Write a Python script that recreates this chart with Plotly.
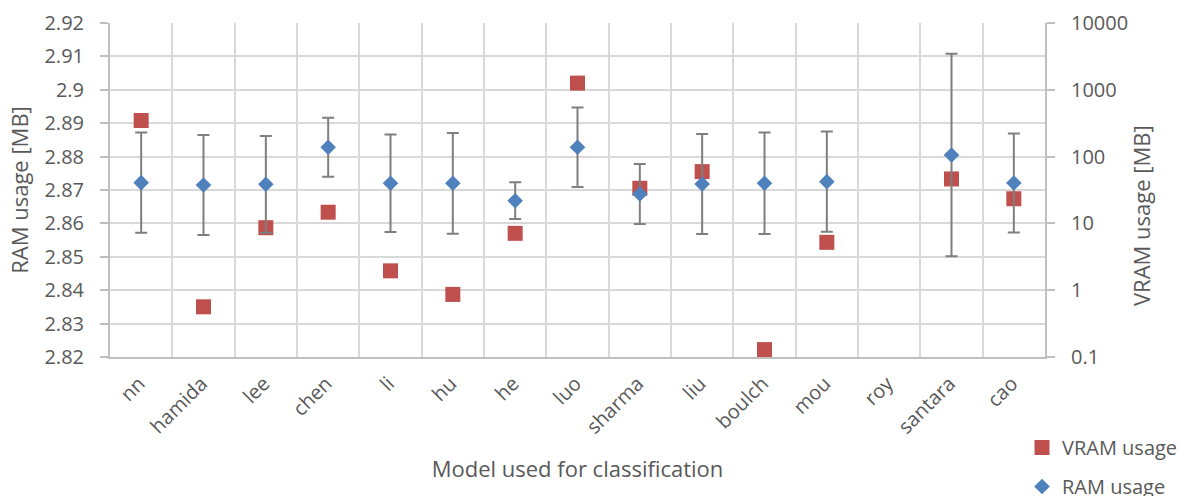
import plotly.graph_objects as go

categories = ["nn", "hamida", "lee", "chen", "li", "hu", "he", "luo",
              "sharma", "liu", "boulch", "mou", "roy", "santara", "cao"]
ram_usage = [2.8722, 2.8715, 2.8717, 2.8828, 2.8720, 2.8720, 2.8668, 2.8828,
             2.8688, 2.8718, 2.8720, 2.8725, None, 2.8805, 2.8721]
ram_error = [0.0150, 0.0150, 0.0145, 0.0088, 0.0146, 0.0151, 0.0055, 0.0119,
             0.0090, 0.0150, 0.0152, 0.0150, None, 0.0303, 0.0148]
vram_usage = [347, 0.564, 8.62, 14.7, 1.95, 0.865, 7.1, 1259,
              33.6, 59.6, 0.129, 5.21, None, 46.3, 23.4]

ram_ticks = [2.82, 2.83, 2.84, 2.85, 2.86, 2.87, 2.88, 2.89, 2.90, 2.91, 2.92]
ram_ticktext = ["2.82", "2.83", "2.84", "2.85", "2.86", "2.87", "2.88",
                "2.89", "2.9", "2.91", "2.92"]
vram_ticks = [0.1, 1, 10, 100, 1000, 10000]
vram_ticktext = ["0.1", "1", "10", "100", "1000", "10000"]

FONT = "Open Sans"
TXT = "#595959"
GRID = "#d9d9d9"
AXIS = "#bfbfbf"

x_pos = list(range(len(categories)))
boundaries = [i - 0.5 for i in range(len(categories) + 1)]

fig = go.Figure()

fig.add_trace(go.Scatter(
    x=x_pos, y=vram_usage, mode="markers", name="VRAM usage",
    yaxis="y", legendgroup="vram",
    marker=dict(symbol="square", size=15, color="#C0504D"),
))

fig.add_trace(go.Scatter(
    x=x_pos, y=ram_usage, mode="markers", name="RAM usage",
    yaxis="y2", legendgroup="ram",
    marker=dict(symbol="diamond", size=12, color="#4F81BD"),
    error_y=dict(type="data", array=ram_error, visible=True,
                 color="#7f7f7f", thickness=2, width=6),
))

fig.update_layout(
    width=1193, height=496,
    margin=dict(l=110, r=148, t=23, b=139, pad=0, autoexpand=False),
    paper_bgcolor="white", plot_bgcolor="white",
    font=dict(family=FONT, size=20, color=TXT),
    showlegend=True,
    legend=dict(
        xref="container", yref="container",
        x=1022 / 1193, y=1 - 428 / 496, xanchor="left", yanchor="top",
        font=dict(family=FONT, size=20, color=TXT),
        tracegroupgap=10, bgcolor="rgba(0,0,0,0)",
        itemwidth=30,
    ),
    xaxis=dict(
        range=[-0.5, len(categories) - 0.5],
        tickmode="array", tickvals=x_pos, ticktext=categories,
        tickangle=-45, ticks="", showgrid=False,
        showline=True, linecolor=AXIS, linewidth=2,
        zeroline=False, automargin=False,
        ticklabelstandoff=5, ticklabelshift=-2,
        tickfont=dict(family=FONT, size=20, color=TXT),
        minor=dict(tickmode="array", tickvals=boundaries, showgrid=True,
                   gridcolor=GRID, gridwidth=2, ticks=""),
        title=dict(text="Model used for classification",
                   font=dict(family=FONT, size=22, color=TXT), standoff=23),
    ),
    yaxis=dict(
        type="log", range=[-1, 4], side="right",
        tickmode="array", tickvals=vram_ticks, ticktext=vram_ticktext,
        showgrid=False, zeroline=False,
        showline=True, linecolor=AXIS, linewidth=2,
        ticks="outside", ticklen=8, tickcolor=AXIS, tickwidth=2,
        ticklabelstandoff=12, automargin=False,
        tickfont=dict(family=FONT, size=20, color=TXT),
    ),
    yaxis2=dict(
        overlaying="y", side="left",
        range=[2.82, 2.92],
        tickmode="array", tickvals=ram_ticks, ticktext=ram_ticktext,
        showgrid=True, gridcolor=GRID, gridwidth=2, zeroline=False,
        showline=True, linecolor=AXIS, linewidth=2,
        ticks="outside", ticklen=8, tickcolor=AXIS, tickwidth=2,
        ticklabelstandoff=12, automargin=False,
        tickfont=dict(family=FONT, size=20, color=TXT),
        title=dict(text="RAM usage [MB]",
                   font=dict(family=FONT, size=22, color=TXT), standoff=10),
    ),
    annotations=[dict(
        text="VRAM usage [MB]", textangle=-90, showarrow=False,
        xref="paper", yref="paper",
        x=(1141 - 110) / 935, y=(357 - 216) / 334,
        xanchor="center", yanchor="middle",
        font=dict(family=FONT, size=22, color=TXT),
    )],
)

fig.write_html("out.html")
